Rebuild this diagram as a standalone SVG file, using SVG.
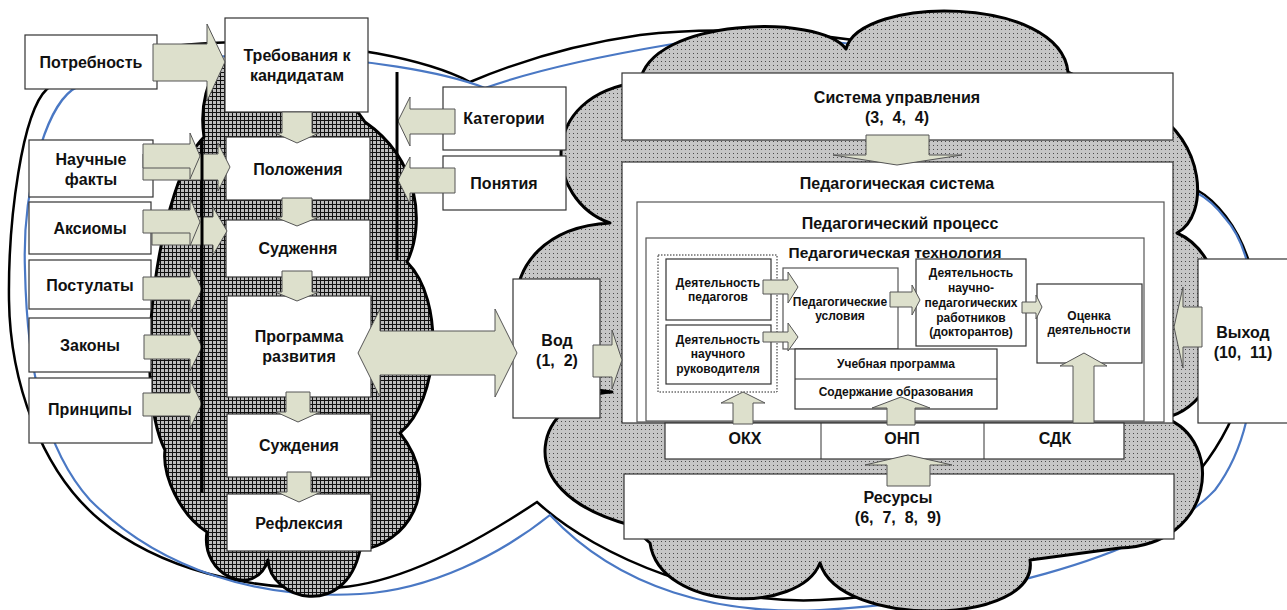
<svg xmlns="http://www.w3.org/2000/svg" width="1287" height="610" viewBox="0 0 1287 610">
  <defs>
    <!-- fine black grid used for the left cloud -->
    <pattern id="gridFill" width="4" height="4" patternUnits="userSpaceOnUse">
      <rect width="4" height="4" fill="#bdbdbd"/>
      <path d="M0 0.5H4M0.5 0V4" stroke="#111" stroke-width="1"/>
    </pattern>
    <!-- dotted grey used for the right cloud -->
    <pattern id="dotFill" width="4" height="4" patternUnits="userSpaceOnUse">
      <rect width="4" height="4" fill="#c6c6c6"/>
      <rect x="1" y="1" width="1" height="1" fill="#4a4a4a"/>
    </pattern>
  </defs>
  <style>
    .box{fill:#fff;stroke:#333;stroke-width:1.2}
    .frame{fill:#fff;stroke:#555;stroke-width:1.2}
    .arr{fill:#dde0cc;stroke:#555;stroke-width:1}
    .t{font-family:"Liberation Sans",Arial,sans-serif;font-weight:bold;fill:#111;text-anchor:middle}
    .s16{font-size:16px}
    .s155{font-size:15.5px}
    .s12{font-size:12px}
    .cloud{stroke:#000;stroke-width:3;stroke-linejoin:round}
    .bar{stroke:#000;stroke-width:3}
  </style>

  <!-- double oval outlines -->
  <g id="ovals" fill="none">
    <path d="M470,82 C380,35 130,20 47,89 C22,112 8,220 9,300 C10,380 40,470 100,520 C160,570 250,590 330,588 C400,586 480,540 537,502 C600,560 720,605 820,600 C950,595 1130,540 1200,470 C1240,420 1268,340 1250,265 C1238,225 1215,200 1197,190 C1100,60 800,15 640,35 C570,45 510,65 470,82 Z" stroke="#000" stroke-width="2.5"/>
    <path d="M485,88 C400,55 160,35 72,90 C45,110 22,190 25,270 C27,370 45,450 90,500 C160,570 260,600 360,594 C430,590 500,555 550,515 C620,590 720,615 820,610 C960,603 1150,560 1215,490 C1245,450 1255,400 1255,330 C1255,280 1245,240 1225,218 C1215,205 1205,197 1197,193 C1100,60 800,20 667,45 C590,58 530,72 485,88 Z" stroke="#4a78c4" stroke-width="2.2"/>
  </g>

  <!-- right cloud -->
  <path id="cloud-right" class="cloud" fill="url(#dotFill)" d="M610,223 C545,200 535,95 640,82 C650,18 820,13 846,49 C860,-5 1060,-5 1068,72 L1150,110 C1205,140 1210,215 1177,233 C1240,260 1240,400 1165,418 C1225,440 1215,545 1120,548 L1030,560 C1040,625 840,630 820,563 C800,615 660,612 650,543 L630,525 C500,490 540,395 612,392 C490,380 480,230 610,223 Z"/>

  <!-- left cloud -->
  <path id="cloud-left" class="cloud" fill="url(#gridFill)" d="M228,60 C205,75 200,110 204,137 C160,180 130,380 165,450 C162,475 180,515 207,532 C200,575 255,600 268,560 C270,600 345,620 360,550 C405,545 445,490 400,433 C440,400 445,300 407,262 C425,225 420,160 365,122 C350,100 320,70 300,60 Z"/>

  <!-- left column: sources -->
  <g id="n-need"><rect class="box" x="25" y="35" width="132" height="54"/><text class="t s16" x="91" y="68">Потребность</text></g>
  <g id="n-facts"><rect class="box" x="29" y="140" width="124" height="57"/><text class="t s16" x="91" y="165">Научные</text><text class="t s16" x="91" y="185">факты</text></g>
  <g id="n-axioms"><rect class="box" x="29" y="202" width="122" height="52"/><text class="t s16" x="90" y="234">Аксиомы</text></g>
  <g id="n-postulates"><rect class="box" x="29" y="260" width="122" height="49"/><text class="t s16" x="90" y="291">Постулаты</text></g>
  <g id="n-laws"><rect class="box" x="29" y="318" width="122" height="54"/><text class="t s16" x="90" y="351">Законы</text></g>
  <g id="n-principles"><rect class="box" x="29" y="378" width="123" height="65"/><text class="t s16" x="90" y="415">Принципы</text></g>

  <!-- central column -->
  <g id="n-requirements"><rect class="box" x="225" y="18" width="143" height="94"/><text class="t s16" x="297" y="61">Требования к</text><text class="t s16" x="297" y="81">кандидатам</text></g>
  <g id="n-provisions"><rect class="box" x="226" y="137" width="144" height="63"/><text class="t s16" x="298" y="175">Положения</text></g>
  <g id="n-judgements-ua"><rect class="box" x="226" y="220" width="144" height="57"/><text class="t s16" x="298" y="254">Судження</text></g>
  <g id="n-program"><rect class="box" x="227" y="296" width="144" height="101"/><text class="t s16" x="299" y="342">Программа</text><text class="t s16" x="299" y="362">развития</text></g>
  <g id="n-judgements"><rect class="box" x="227" y="414" width="144" height="63"/><text class="t s16" x="299" y="451">Суждения</text></g>
  <g id="n-reflection"><rect class="box" x="227" y="494" width="144" height="57"/><text class="t s16" x="299" y="529">Рефлексия</text></g>

  <g id="n-categories"><rect class="box" x="443" y="87" width="123" height="63"/><text class="t s16" x="504" y="124">Категории</text></g>
  <g id="n-concepts"><rect class="box" x="443" y="156" width="123" height="54"/><text class="t s16" x="504" y="189">Понятия</text></g>

  <g id="n-input"><rect class="box" x="513" y="279" width="87" height="139"/><text class="t s16" x="557" y="346">Вод</text><text class="t s16" x="557" y="366" xml:space="preserve">(1,  2)</text></g>

  <!-- right block -->
  <g id="n-management"><rect class="box" x="622" y="73" width="551" height="67"/><text class="t s16" x="897" y="103">Система управления</text><text class="t s16" x="897" y="123" xml:space="preserve">(3,  4,  4)</text></g>
  <g id="n-ped-system"><rect class="box" x="622" y="162" width="551" height="261"/><text class="t s16" x="897" y="189">Педагогическая система</text></g>
  <g id="n-ped-process"><rect class="frame" x="637" y="202" width="527" height="220"/><text class="t s16" x="900" y="229">Педагогический процесс</text></g>
  <g id="n-ped-tech"><rect class="frame" x="646" y="238" width="498" height="183"/><text class="t s155" x="895" y="258">Педагогическая технология</text></g>
  <g id="n-actors"><rect x="658" y="255" width="119" height="137" fill="#fff" stroke="#222" stroke-width="1" stroke-dasharray="1.5 1.5"/></g>
  <g id="n-teachers"><rect class="box" x="666" y="259" width="105" height="61"/><text class="t s12" x="718" y="287">Деятельность</text><text class="t s12" x="718" y="301">педагогов</text></g>
  <g id="n-supervisor"><rect class="box" x="666" y="325" width="105" height="59"/><text class="t s12" x="718" y="344">Деятельность</text><text class="t s12" x="718" y="358">научного</text><text class="t s12" x="718" y="373">руководителя</text></g>
  <g id="n-conditions"><rect class="frame" x="783" y="268" width="115" height="81"/><text class="t s12" x="840" y="306">Педагогические</text><text class="t s12" x="840" y="320">условия</text></g>
  <g id="n-doctoral"><rect class="box" x="916" y="259" width="110" height="87"/><text class="t s12" x="971" y="277">Деятельность</text><text class="t s12" x="971" y="292">научно-</text><text class="t s12" x="971" y="307">педагогических</text><text class="t s12" x="971" y="322">работников</text><text class="t s12" x="971" y="336">(докторантов)</text></g>
  <g id="n-evaluation"><rect class="box" x="1037" y="284" width="105" height="79"/><text class="t s12" x="1089" y="320">Оценка</text><text class="t s12" x="1089" y="334">деятельности</text></g>
  <g id="n-curriculum"><rect class="box" x="795" y="349" width="202" height="60"/><line x1="795" y1="379" x2="997" y2="379" stroke="#333" stroke-width="1.2"/><text class="t s12" x="896" y="368">Учебная программа</text><text class="t s12" x="896" y="396">Содержание образования</text></g>
  <g id="n-standards"><rect class="box" x="665" y="423" width="459" height="36"/><line x1="821" y1="423" x2="821" y2="459" stroke="#333" stroke-width="1"/><line x1="984" y1="423" x2="984" y2="459" stroke="#333" stroke-width="1"/><text class="t s16" x="745" y="444">ОКХ</text><text class="t s16" x="902" y="444">ОНП</text><text class="t s16" x="1055" y="444">СДК</text></g>
  <g id="n-resources"><rect class="box" x="624" y="474" width="550" height="65"/><text class="t s16" x="898" y="503">Ресурсы</text><text class="t s16" x="898" y="523" xml:space="preserve">(6,  7,  8,  9)</text></g>
  <g id="n-output"><rect class="box" x="1198" y="259" width="100" height="164"/><text class="t s16" x="1243" y="338">Выход</text><text class="t s16" x="1243" y="358" xml:space="preserve">(10,  11)</text></g>

  <!-- block arrows -->
  <g id="connectors">
    <polygon class="arr" points="153,44 207,44 207,24 225,62 207,101 207,81 153,81"/>
    <polygon class="arr" points="143,154 218,154 218,143 230,167 218,191 218,180 143,180"/>
    <polygon class="arr" points="143,144 190,144 190,133 200,156 190,179 190,168 143,168"/>
    <polygon class="arr" points="152,217 213,217 213,207 227,231 213,255 213,245 152,245"/>
    <polygon class="arr" points="143,210 190,210 190,198 200,222 190,246 190,233 143,233"/>
    <polygon class="arr" points="143,277 190,277 190,265 202,289 190,313 190,300 143,300"/>
    <polygon class="arr" points="144,335 190,335 190,323 202,347 190,371 190,359 144,359"/>
    <polygon class="arr" points="143,393 190,393 190,380 202,404 190,428 190,416 143,416"/>

    <polygon class="arr" points="282,112 312,112 312,133 319,133 297,143 275,133 282,133"/>
    <polygon class="arr" points="282,198 312,198 312,217 319,217 297,226 275,217 282,217"/>
    <polygon class="arr" points="282,271 312,271 312,292 319,292 297,301 275,292 282,292"/>
    <polygon class="arr" points="286,392 310,392 310,412 320,412 298,422 276,412 286,412"/>
    <polygon class="arr" points="287,472 311,472 311,492 321,492 299,502 277,492 287,492"/>

    <polygon class="arr" points="455,109 410,109 410,97 398,121 410,146 410,134 455,134"/>
    <polygon class="arr" points="455,168 410,168 410,157 398,180 410,204 410,193 455,193"/>

    <polygon class="arr" points="358,353 380,309 380,331 495,331 495,309 517,353 495,397 495,375 380,375 380,397"/>
    <polygon class="arr" points="593,345 612,345 612,330 622,360 612,389 612,377 593,377"/>

    <polygon class="arr" points="866,135 929,135 929,155 962,155 897,165 833,155 866,155"/>
    <polygon class="arr" points="763,280 788,280 788,272 798,287 788,303 788,294 763,294"/>
    <polygon class="arr" points="763,332 788,332 788,323 798,337 788,351 788,342 763,342"/>
    <polygon class="arr" points="890,292 912,292 912,285 920,300 912,315 912,307 890,307"/>
    <polygon class="arr" points="1022,302 1036,302 1036,295 1042,307 1036,319 1036,313 1022,313"/>

    <polygon class="arr" points="733,424 733,403 721,403 743,392 765,403 753,403 753,424"/>
    <polygon class="arr" points="887,425 887,408 872,408 901,397 930,408 915,408 915,425"/>
    <polygon class="arr" points="1073,423 1073,366 1060,366 1084,353 1107,366 1094,366 1094,423"/>
    <polygon class="arr" points="887,486 887,465 865,465 908,455 952,465 930,465 930,486"/>
    <polygon class="arr" points="1202,307 1183,307 1183,287 1174,327 1183,368 1183,347 1202,347"/>

    <!-- vertical bars -->
    <line class="bar" x1="202" y1="140" x2="202" y2="493"/>
    <line class="bar" x1="397" y1="72" x2="397" y2="260"/>
  </g>
</svg>
